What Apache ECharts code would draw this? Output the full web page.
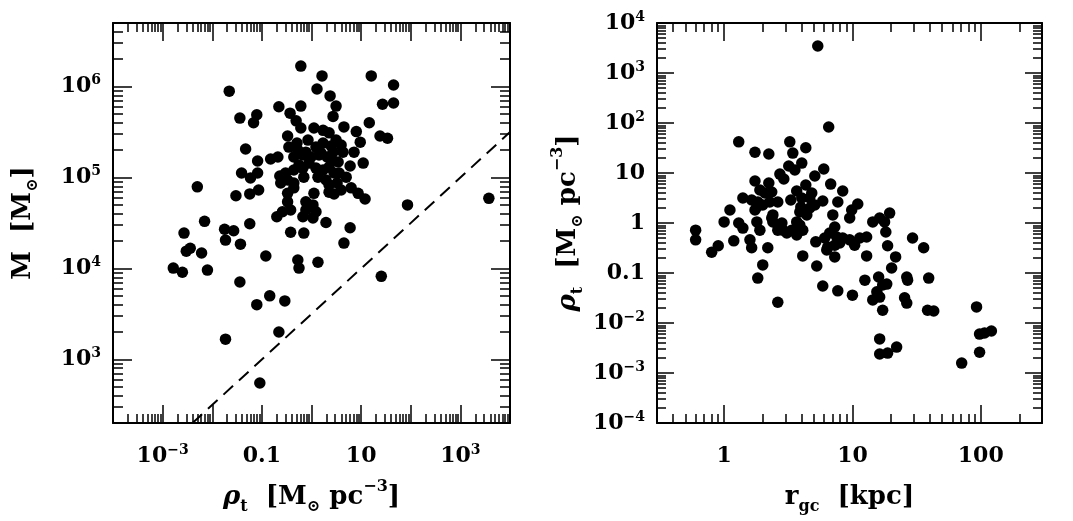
<!DOCTYPE html>
<html>
<head>
<meta charset="utf-8">
<title>rho_t vs M and r_gc vs rho_t</title>
<script src="https://cdn.jsdelivr.net/npm/echarts@6/dist/echarts.min.js"></script>
<style>
  html, body { margin: 0; padding: 0; background: #fff; }
  #main { width: 1073px; height: 521px; }
</style>
</head>
<body>
<div id="main"></div>
<script>
// left panel: tidal density (M_sun pc^-3) against mass (M_sun)
var rhoLeft = [0.61, 1.63, 16, 45, 0.022, 1.29, 2.37, 3.13, 2.72, 0.61, 0.22, 0.37, 27, 45, 0.036, 0.079, 0.068, 0.49, 0.61, 14.6,
  4.5, 8.0, 24, 34, 0.33, 1.12, 1.71, 2.26, 9.6, 0.047, 0.35, 0.53, 0.77, 1.23, 1.56, 2.72, 4.3, 7.2, 0.15, 0.21,
  0.082, 0.44, 0.67, 0.98, 1.42, 2.48, 11, 6.0, 0.039, 0.082, 0.059, 0.23, 0.30, 0.44, 0.67, 1.23, 1.71, 2.26, 2.85, 3.6,
  0.24, 0.33, 0.44, 0.70, 1.35, 1.96, 2.26, 0.005, 0.030, 0.057, 0.086, 0.33, 0.44, 1.12, 2.26, 2.85, 6.3, 8.7, 12, 86,
  3750, 0.33, 0.38, 0.77, 1.07, 0.77, 1.23, 0.20, 0.26, 0.67, 1.07, 1.96, 0.007, 0.057, 0.0027, 0.0177, 0.027, 0.38, 0.70, 6.0,
  0.0185, 0.037, 4.5, 0.003, 0.0036, 0.0061, 0.12, 0.53, 1.35, 0.00164, 0.0025, 0.008, 0.56, 0.036, 0.144, 0.079, 0.29, 25.5, 0.22, 0.0185,
  0.091, 0.85, 1.71, 3.13, 0.51, 2.48, 2.06, 0.56, 0.89, 3.44, 3.95, 5.0, 3.95, 3.28];
var massLeft = [1.68e6, 1.31e6, 1.31e6, 1.04e6, 8.9e5, 9.4e5, 7.9e5, 6.1e5, 4.7e5, 6.1e5, 6.0e5, 5.1e5, 6.4e5, 6.6e5, 4.5e5, 4.9e5, 4.0e5, 4.2e5, 3.5e5, 4.0e5,
  3.6e5, 3.2e5, 2.86e5, 2.7e5, 2.86e5, 3.5e5, 3.3e5, 3.1e5, 2.45e5, 2.06e5, 2.16e5, 2.0e5, 1.9e5, 2.16e5, 1.86e5, 1.9e5, 1.9e5, 1.9e5, 1.6e5, 1.68e5,
  1.52e5, 1.68e5, 1.77e5, 1.68e5, 1.77e5, 1.56e5, 1.44e5, 1.34e5, 1.12e5, 1.12e5, 9.9e4, 1.04e5, 1.12e5, 1.21e5, 1.27e5, 1.27e5, 1.21e5, 1.30e5, 1.12e5, 1.12e5,
  8.7e4, 9.4e4, 8.7e4, 1.01e5, 1.01e5, 9.4e4, 8.3e4, 7.9e4, 6.3e4, 6.6e4, 7.3e4, 6.7e4, 7.7e4, 6.7e4, 6.9e4, 6.6e4, 7.7e4, 6.7e4, 5.8e4, 5.0e4,
  5.9e4, 5.4e4, 4.4e4, 5.4e4, 5.0e4, 4.4e4, 4.2e4, 3.7e4, 4.2e4, 3.7e4, 3.6e4, 3.2e4, 3.3e4, 3.1e4, 2.45e4, 2.7e4, 2.6e4, 2.5e4, 2.45e4, 2.8e4,
  2.05e4, 1.85e4, 1.9e4, 1.55e4, 1.67e4, 1.48e4, 1.37e4, 1.24e4, 1.17e4, 1.01e4, 9.1e3, 9.6e3, 1.01e4, 7.1e3, 5.0e3, 4.0e3, 4.4e3, 8.2e3, 2.0e3, 1.67e3,
  550, 2.58e5, 2.39e5, 2.58e5, 2.39e5, 2.22e5, 1.68e5, 1.37e5, 1.44e5, 1.48e5, 2.28e5, 1.01e5, 7.3e4, 8.7e4];

// dashed reference line, end points
var lineRho = [0.004, 1e4];
var lineMass = [200, 3.16e5];

// right panel: galactocentric distance (kpc) against tidal density
var rgcRight = [5.37, 6.53, 1.30, 3.25, 4.33, 1.74, 2.23, 3.43, 3.19, 3.56, 4.03, 2.72, 2.92, 5.98, 5.09, 1.74, 2.23, 1.90, 2.08, 2.35,
  6.77, 8.4, 3.68, 4.33, 4.82, 1.40, 1.64, 1.83, 2.62, 3.31, 4.03, 4.65, 5.87, 7.69, 1.80, 2.0, 2.27, 3.96, 4.65, 5.09,
  11.0, 9.87, 1.11, 1.74, 2.40, 2.35, 3.89, 4.41, 7.03, 9.52, 1.0, 1.30, 1.40, 1.80, 1.90, 2.40, 2.82, 2.62, 3.68, 4.10,
  3.89, 14.4, 16.3, 17.8, 19.5, 18.2, 7.28, 0.60, 0.60, 0.80, 0.90, 1.19, 1.59, 1.64, 2.19, 2.87, 3.08, 3.37, 3.68, 5.18,
  6.08, 6.65, 6.42, 7.28, 8.4, 9.52, 10.4, 11.4, 12.9, 18.8, 29.4, 35.9, 4.10, 7.28, 12.9, 21.7, 2.0, 1.83, 5.27, 20.2,
  2.62, 5.87, 7.69, 10.0, 12.5, 16.0, 17.2, 15.5, 14.4, 16.3, 18.5, 17.2, 26.5, 26.9, 25.5, 26.5, 39.3, 38.5, 43.0, 16.3,
  16.3, 18.8, 22.1, 92.7, 97.9, 107, 121, 97.9, 71, 7.55, 7.96, 6.31];
var rhoRight = [3470, 83, 42, 42, 32, 26, 24, 25, 13.8, 11.5, 15.8, 9.5, 7.6, 12.0, 8.7, 6.9, 6.3, 4.57, 3.98, 4.17,
  6.0, 4.37, 4.37, 5.75, 3.98, 3.16, 2.88, 2.63, 2.63, 2.88, 3.16, 3.16, 2.75, 2.63, 2.09, 2.29, 2.63, 2.09, 2.0, 2.29,
  2.4, 1.82, 1.82, 1.82, 1.45, 1.26, 1.66, 1.45, 1.45, 1.26, 1.05, 1.0, 0.79, 1.05, 0.72, 1.05, 1.0, 0.72, 1.05, 0.72,
  0.91, 1.05, 1.26, 1.05, 1.58, 0.66, 0.83, 0.72, 0.46, 0.26, 0.35, 0.44, 0.46, 0.32, 0.32, 0.72, 0.63, 0.72, 0.575, 0.42,
  0.50, 0.63, 0.33, 0.36, 0.50, 0.46, 0.36, 0.50, 0.525, 0.35, 0.50, 0.32, 0.22, 0.21, 0.22, 0.21, 0.145, 0.079, 0.138, 0.126,
  0.026, 0.055, 0.044, 0.036, 0.072, 0.083, 0.0575, 0.042, 0.029, 0.033, 0.060, 0.018, 0.083, 0.072, 0.032, 0.025, 0.079, 0.018, 0.0174, 0.0048,
  0.0024, 0.0025, 0.0033, 0.021, 0.0060, 0.0063, 0.0069, 0.0026, 0.00158, 0.525, 0.40, 0.29];

// tick labels
var leftXLabels = [1e-3, 0.1, 10, 1e3];
var leftYLabels = [1e3, 1e4, 1e5, 1e6];
var rightXLabels = [1, 10, 100];
var rightYLabels = [1e-4, 1e-3, 1e-2, 0.1, 1, 10, 100, 1e3, 1e4];

var FONT = 'DejaVu Serif';

function zip(xs, ys) {
  return xs.map(function (x, i) { return [x, ys[i]]; });
}

// tick positions k * 10^e inside [lo, hi]
function decadeTicks(lo, hi, ks) {
  var out = [];
  for (var e = -6; e <= 8; e++) {
    ks.forEach(function (k) {
      var v = k * Math.pow(10, e);
      if (v >= lo * 0.999 && v <= hi * 1.001) out.push(v);
    });
  }
  return out;
}

// plain decimals for these exponents, 10^n for the rest
function powLabel(plain) {
  return function (v) {
    var e = Math.round(Math.log10(v));
    if (plain.indexOf(e) >= 0) return '{b|' + (e < 0 ? '0.' + '0'.repeat(-e - 1) + '1' : Math.pow(10, e).toString()) + '}';
    return '{b|10}{s|' + (e < 0 ? '\u2212' + (-e) : e) + '}';
  };
}

var labelRich = {
  b: { fontFamily: FONT, fontWeight: 'bold', fontSize: 22, lineHeight: 26, color: '#000' },
  s: { fontFamily: FONT, fontWeight: 'bold', fontSize: 14, lineHeight: 14, color: '#000', verticalAlign: 'top' }
};
var nameRich = {
  n: { fontFamily: FONT, fontWeight: 'bold', fontSize: 26, lineHeight: 36, color: '#000' },
  i: { fontFamily: FONT, fontWeight: 'bold', fontStyle: 'italic', fontSize: 26, lineHeight: 36, color: '#000' },
  sub: { fontFamily: FONT, fontWeight: 'bold', fontSize: 16, lineHeight: 16, color: '#000', verticalAlign: 'bottom' },
  sup: { fontFamily: FONT, fontWeight: 'bold', fontSize: 16, lineHeight: 16, color: '#000', verticalAlign: 'top' }
};

function axis(o) {
  var a = {
    type: 'log', logBase: 10, gridIndex: o.grid, position: o.pos, min: o.min, max: o.max,
    axisLine: { show: o.line, onZero: false, lineStyle: { color: '#000', width: 2 } },
    axisTick: { show: true, inside: true, length: o.len, customValues: o.ticks,
      lineStyle: { color: '#000', width: 1.5 } },
    axisLabel: { show: false },
    splitLine: { show: false },
    minorTick: { show: false }
  };
  if (o.labels) {
    a.axisLabel = { show: true, customValues: o.labels, formatter: o.fmt, margin: o.margin, rich: labelRich };
  }
  if (o.name) {
    a.name = o.name;
    a.nameLocation = 'middle';
    a.nameGap = o.nameGap;
    a.nameTextStyle = { rich: nameRich };
  }
  return a;
}

var L = { xmin: 1e-4, xmax: 1e4, ymin: 200, ymax: 5e6 };
var R = { xmin: 0.3, xmax: 300, ymin: 1e-4, ymax: 1e4 };
var ONE = [1], REST = [2, 3, 4, 5, 6, 7, 8, 9];

var rhoName = '{i|\u03c1}{sub|t}{n|  [M}{sub|\u2299}{n| pc}{sup|\u22123}{n|]}';

var xAxes = [
  axis({ grid: 0, pos: 'bottom', min: L.xmin, max: L.xmax, line: true, len: 18, ticks: decadeTicks(L.xmin, L.xmax, ONE),
    labels: leftXLabels, fmt: powLabel([-1, 1]), margin: 20, name: rhoName, nameGap: 56 }),
  axis({ grid: 0, pos: 'bottom', min: L.xmin, max: L.xmax, line: false, len: 9, ticks: decadeTicks(L.xmin, L.xmax, REST) }),
  axis({ grid: 0, pos: 'top', min: L.xmin, max: L.xmax, line: true, len: 18, ticks: decadeTicks(L.xmin, L.xmax, ONE) }),
  axis({ grid: 0, pos: 'top', min: L.xmin, max: L.xmax, line: false, len: 9, ticks: decadeTicks(L.xmin, L.xmax, REST) }),
  axis({ grid: 1, pos: 'bottom', min: R.xmin, max: R.xmax, line: true, len: 18, ticks: decadeTicks(R.xmin, R.xmax, ONE),
    labels: rightXLabels, fmt: powLabel([0, 1, 2]), margin: 20, name: '{n|r}{sub|gc}{n|  [kpc]}', nameGap: 56 }),
  axis({ grid: 1, pos: 'bottom', min: R.xmin, max: R.xmax, line: false, len: 9, ticks: decadeTicks(R.xmin, R.xmax, REST) }),
  axis({ grid: 1, pos: 'top', min: R.xmin, max: R.xmax, line: true, len: 18, ticks: decadeTicks(R.xmin, R.xmax, ONE) }),
  axis({ grid: 1, pos: 'top', min: R.xmin, max: R.xmax, line: false, len: 9, ticks: decadeTicks(R.xmin, R.xmax, REST) })
];
var yAxes = [
  axis({ grid: 0, pos: 'left', min: L.ymin, max: L.ymax, line: true, len: 19, ticks: decadeTicks(L.ymin, L.ymax, ONE),
    labels: leftYLabels, fmt: powLabel([]), margin: 12, name: '{n|M  [M}{sub|\u2299}{n|]}', nameGap: 72 }),
  axis({ grid: 0, pos: 'left', min: L.ymin, max: L.ymax, line: false, len: 10, ticks: decadeTicks(L.ymin, L.ymax, REST) }),
  axis({ grid: 0, pos: 'right', min: L.ymin, max: L.ymax, line: true, len: 19, ticks: decadeTicks(L.ymin, L.ymax, ONE) }),
  axis({ grid: 0, pos: 'right', min: L.ymin, max: L.ymax, line: false, len: 10, ticks: decadeTicks(L.ymin, L.ymax, REST) }),
  axis({ grid: 1, pos: 'left', min: R.ymin, max: R.ymax, line: true, len: 17, ticks: decadeTicks(R.ymin, R.ymax, ONE),
    labels: rightYLabels, fmt: powLabel([-1, 0, 1]), margin: 12, name: rhoName, nameGap: 71 }),
  axis({ grid: 1, pos: 'left', min: R.ymin, max: R.ymax, line: false, len: 9, ticks: decadeTicks(R.ymin, R.ymax, REST) }),
  axis({ grid: 1, pos: 'right', min: R.ymin, max: R.ymax, line: true, len: 17, ticks: decadeTicks(R.ymin, R.ymax, ONE) }),
  axis({ grid: 1, pos: 'right', min: R.ymin, max: R.ymax, line: false, len: 9, ticks: decadeTicks(R.ymin, R.ymax, REST) })
];

var chart = echarts.init(document.getElementById('main'), null, { renderer: 'canvas' });
chart.setOption({
  animation: false,
  backgroundColor: '#fff',
  grid: [
    { left: 113, top: 23, width: 397, height: 400 },
    { left: 657, top: 23, width: 385, height: 400 }
  ],
  xAxis: xAxes,
  yAxis: yAxes,
  series: [
    {
      type: 'line', xAxisIndex: 0, yAxisIndex: 0, data: zip(lineRho, lineMass),
      symbol: 'none', clip: true, z: 1,
      lineStyle: { color: '#000', width: 2, type: [13, 8] }
    },
    {
      type: 'scatter', xAxisIndex: 0, yAxisIndex: 0, data: zip(rhoLeft, massLeft),
      symbol: 'circle', symbolSize: 11.5, itemStyle: { color: '#000', opacity: 1 }, z: 2
    },
    {
      type: 'scatter', xAxisIndex: 4, yAxisIndex: 4, data: zip(rgcRight, rhoRight),
      symbol: 'circle', symbolSize: 11.5, itemStyle: { color: '#000', opacity: 1 }, z: 2
    }
  ]
});
</script>
</body>
</html>
